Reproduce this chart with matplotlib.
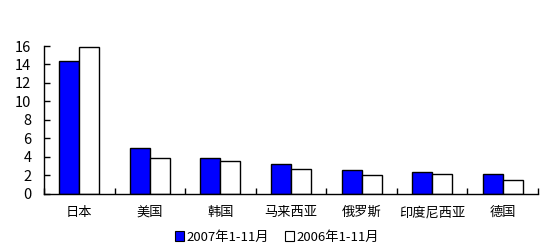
import matplotlib
matplotlib.use("Agg")
import matplotlib.pyplot as plt
import numpy as np
from matplotlib.patches import Patch

plt.rcParams['font.family'] = ['Noto Sans CJK SC', 'DejaVu Sans']

categories = ["日本", "美国", "韩国", "马来西亚", "俄罗斯", "印度尼西亚", "德国"]
series_2007 = [14.4, 4.9, 3.9, 3.2, 2.5, 2.3, 2.1]
series_2006 = [15.9, 3.9, 3.5, 2.7, 2.0, 2.1, 1.5]
series_names = ["2007年1-11月", "2006年1-11月"]
y_ticks = [0, 2, 4, 6, 8, 10, 12, 14, 16]

fig = plt.figure(figsize=(5.54, 2.5), dpi=100)
ax = fig.add_axes([44/554, 1-193.5/250, (538-44)/554, (193.5-46)/250])

x = np.arange(len(categories))
w = 0.2835
ax.bar(x - w/2, series_2007, width=w, color='#0000FF', edgecolor='black', linewidth=1)
ax.bar(x + w/2, series_2006, width=w, color='white', edgecolor='black', linewidth=1)

ax.set_xlim(-0.5, len(categories) - 0.5)
ax.set_ylim(0, 16)
ax.set_yticks(y_ticks)
ax.set_yticklabels([str(v) for v in y_ticks], fontsize=10.5)
ax.set_xticks(np.arange(len(categories) + 1) - 0.5)
ax.set_xticklabels([])
ax.set_xticks(x, minor=True)
ax.set_xticklabels(categories, minor=True, fontsize=9.5)
ax.tick_params(axis='x', which='minor', length=0, pad=9)
ax.tick_params(axis='x', which='major', length=4, direction='in', width=1)
ax.tick_params(axis='y', length=4, direction='in', width=1, pad=9)
for s in ['top', 'right']:
    ax.spines[s].set_visible(False)
for s in ['left', 'bottom']:
    ax.spines[s].set_linewidth(1)

handles = [Patch(facecolor='#0000FF', edgecolor='black', linewidth=0.8),
           Patch(facecolor='white', edgecolor='black', linewidth=0.8)]
fig.legend(handles, series_names, loc='center', bbox_to_anchor=(0.5, 1-237/250),
           ncol=2, frameon=False, fontsize=9.5, handlelength=0.7, handleheight=0.7,
           handletextpad=0.2, columnspacing=1.2)

fig.savefig("out.png", dpi=100)
